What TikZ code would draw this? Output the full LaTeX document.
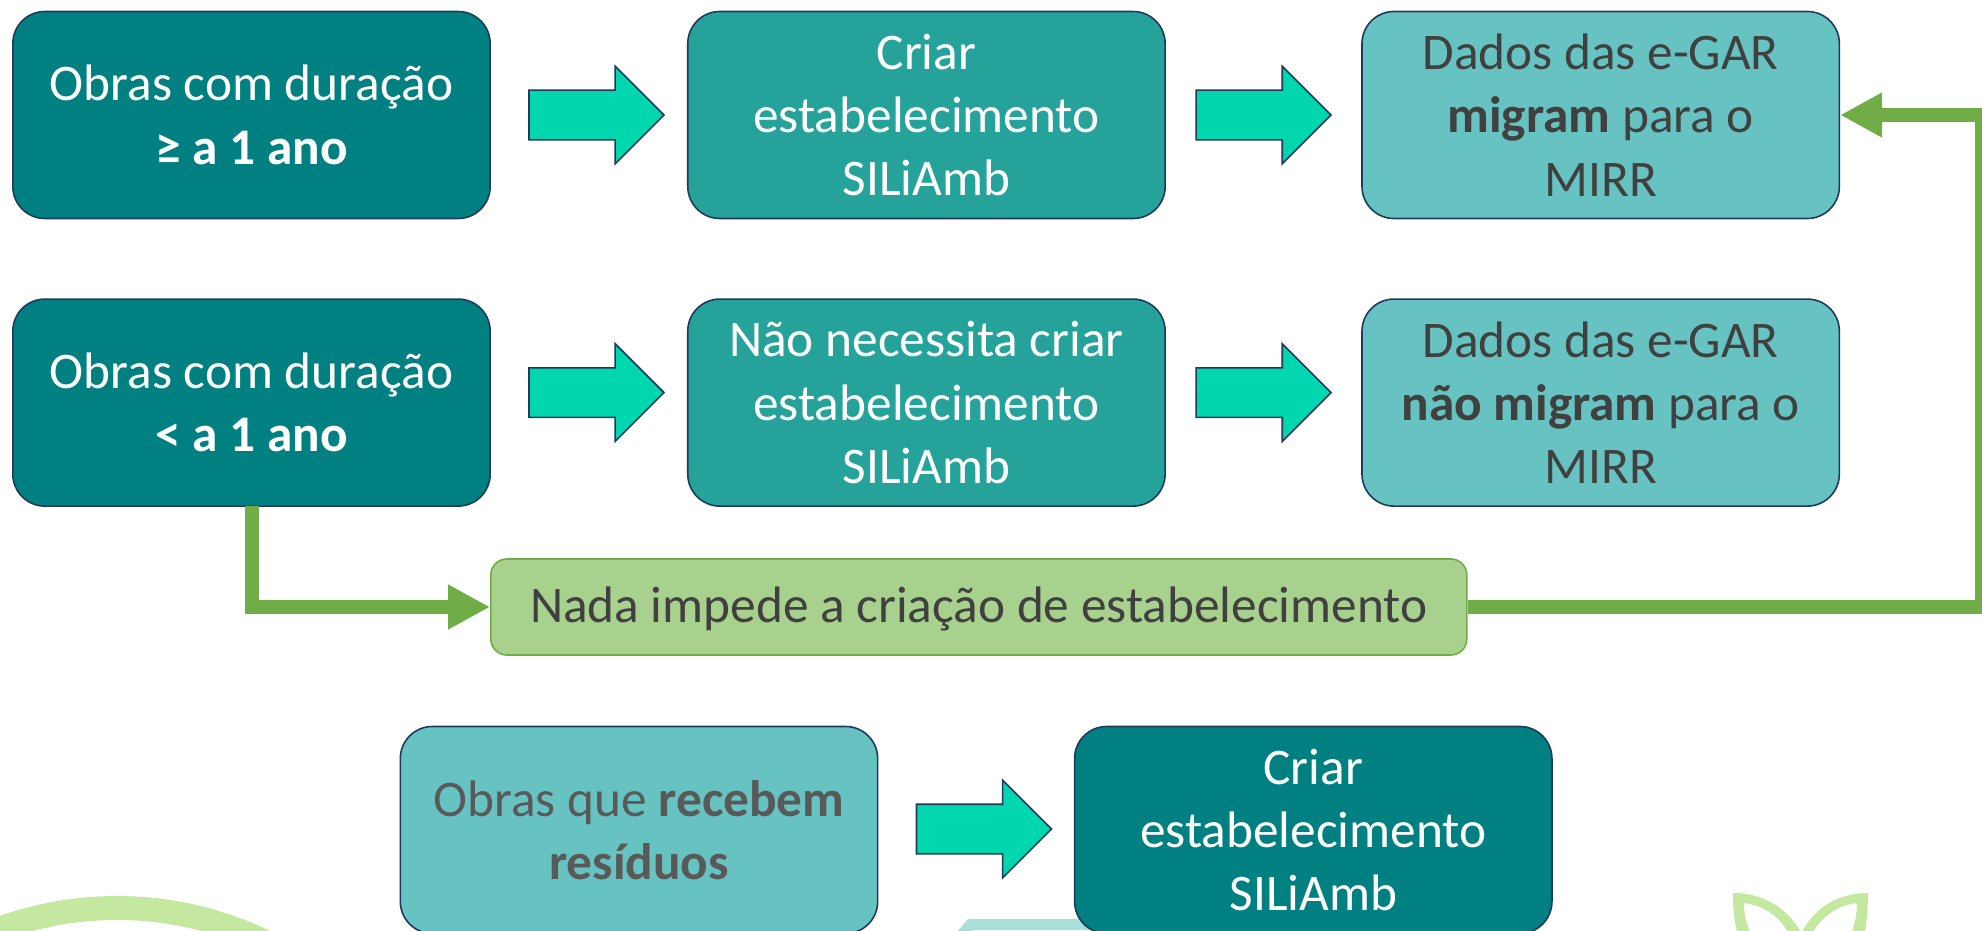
\documentclass[tikz,border=0pt]{standalone}
\usepackage{fontspec}
\setmainfont{Carlito}
\usetikzlibrary{shapes, arrows, calc, positioning}
\usetikzlibrary{arrows.meta}

\definecolor{tealdark}{HTML}{008080}
\definecolor{tealmid}{HTML}{25A39B}
\definecolor{teallight}{HTML}{67C3C1}
\definecolor{arrowfill}{HTML}{00D7AE}
\definecolor{edgenavy}{HTML}{1F3A5F}
\definecolor{linkgreen}{HTML}{70AD47}
\definecolor{notefill}{HTML}{A9D18E}
\definecolor{leafgreen}{HTML}{C5E8A0}
\definecolor{hexteal}{HTML}{A8E0D8}

\begin{document}
\begin{tikzpicture}[
  x=0.75pt, y=-0.75pt,
  node distance=59.25pt and 28.5pt,
  every node/.style={font=\fontsize{38.5}{47.5}\selectfont, align=center},
  stagebox/.style={rectangle, draw=edgenavy, line width=1.2pt, rounded corners=24pt, minimum width=358pt, minimum height=155.25pt, inner sep=0pt},
  darkbox/.style={stagebox, fill=tealdark, text=white},
  midbox/.style={stagebox, fill=tealmid, text=white},
  lightbox/.style={stagebox, fill=teallight, text=black!75},
  notebox/.style={rectangle, draw=linkgreen, line width=1.2pt, fill=notefill, text=black!75, rounded corners=12pt, minimum width=732pt, minimum height=72pt, inner sep=0pt, text depth=3.5pt},
  blockarrow/.style={single arrow, draw=edgenavy, line width=1.2pt, fill=arrowfill, single arrow head extend=18pt, single arrow tip angle=90, minimum width=72pt, minimum height=101.25pt, inner sep=18pt, outer sep=0pt},
  link/.style={draw=linkgreen, line width=10.5pt, -{Triangle[length=31.5pt, width=31.5pt]}}
]

\clip (0,0) rectangle (1982,931);

% decoration behind the last row
\draw[leafgreen, line width=18pt] (117,1248) circle (340);
\fill[hexteal] (957,932) -- (968,919) -- (1200,919) -- (1200,930) -- (973,930) -- (971,932) -- cycle;
\fill[leafgreen, even odd rule] (1733,893) .. controls (1760,893) and (1785,905) .. (1801,932) -- (1788,932) .. controls (1778,915) and (1762,905) .. (1744,903) .. controls (1744,915) and (1746,922) .. (1750,932) -- (1737,932) .. controls (1734,920) and (1733,905) .. (1733,893) -- cycle;
\fill[leafgreen, even odd rule] (1868,893) .. controls (1841,893) and (1816,905) .. (1802,932) -- (1813,932) .. controls (1823,915) and (1839,905) .. (1857,903) .. controls (1857,915) and (1855,922) .. (1852,932) -- (1865,932) .. controls (1867,920) and (1868,905) .. (1868,893) -- cycle;

% first row
\node[darkbox] (longworks) at (251.5,115) {Obras com duração\\\textbf{≥ a 1 ano}};
\node[blockarrow, right=of longworks] (arrowa) {};
\node[midbox, right=17.25pt of arrowa] (createa) {Criar\\estabelecimento\\SILiAmb};
\node[blockarrow, right=22.6pt of createa] (arrowb) {};
\node[lightbox, right=22.6pt of arrowb] (dataa) {Dados das e-GAR\\\textbf{migram} para o\\MIRR};

% second row
\node[darkbox, below=of longworks] (shortworks) {Obras com duração\\\textbf{< a 1 ano}};
\node[midbox, below=of createa] (nocreate) {Não necessita criar\\estabelecimento\\SILiAmb};
\node[lightbox, below=of dataa] (datab) {Dados das e-GAR\\\textbf{não migram} para o\\MIRR};
\node[blockarrow, right=of shortworks, yshift=7.5pt] (arrowc) {};
\node[blockarrow, right=22.6pt of nocreate, yshift=7.5pt] (arrowd) {};

% note and its links
\node[notebox, anchor=west] (nothing) at (490,607) {Nada impede a criação de estabelecimento};
\coordinate (cornerout) at (1982,607);
\coordinate (cornerin) at (1982,115);
\draw[link] ($(shortworks.south)+(0,-1)$) |- (nothing.west);
\draw[link] (nothing.east) -- (cornerout) -- (cornerin) -- (dataa.east);

% last row
\node[lightbox, text=black!65] (receive) at (639,830) {Obras que \textbf{recebem}\\\textbf{resíduos}};
\node[blockarrow, right=of receive, yshift=0.75pt] (arrowe) {};
\node[darkbox, right=16.75pt of arrowe, yshift=-0.75pt] (createb) {Criar\\estabelecimento\\SILiAmb};

\end{tikzpicture}
\end{document}
